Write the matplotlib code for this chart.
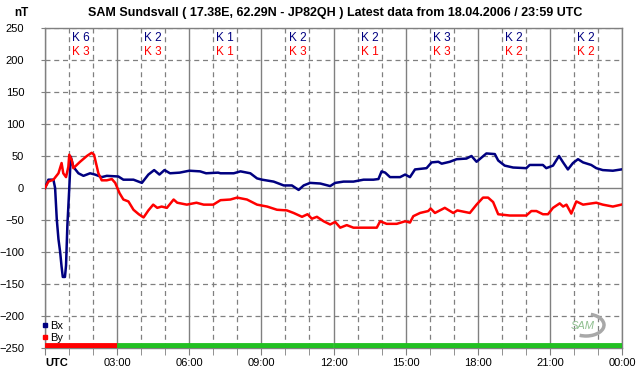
import matplotlib
matplotlib.use("Agg")
import matplotlib.pyplot as plt
from matplotlib.lines import Line2D
from matplotlib.patches import Arc

plt.rcParams['font.family'] = ['Liberation Sans', 'DejaVu Sans']

# ---- data ----
bx_t = [0, 0.14, 0.35, 0.42, 0.49, 0.56, 0.63, 0.69, 0.74, 0.83, 0.875, 0.93, 1.01, 1.07, 1.18,
        1.39, 1.6, 1.875, 2.08, 2.36, 2.57, 3.05, 3.26, 3.68, 4.03, 4.3, 4.54, 4.76, 4.97, 5.2, 5.6,
        6.0, 6.45, 6.7, 7.2, 7.3, 7.85, 8.13, 8.54, 8.82, 9.03, 9.51, 9.93, 10.27, 10.55, 10.76,
        11.03, 11.45, 11.86, 12.07, 12.42, 12.83, 13.25, 13.66, 13.87, 14.0, 14.15, 14.35, 14.77,
        14.98, 15.18, 15.39, 15.87, 16.08, 16.36, 16.5, 16.84, 17.12, 17.53, 17.74, 17.95, 18.36,
        18.71, 18.85, 19.12, 19.47, 20.02, 20.16, 20.71, 20.85, 21.13, 21.38, 21.55, 21.75, 21.96,
        22.17, 22.38, 22.72, 22.93, 23.2, 23.62, 23.97]
bx_v = [0, 13, 13, 0, -49, -80, -100, -123, -139, -139, -121, -59, 0, 49, 33,
        23, 19, 23, 21, 17, 19, 18, 13, 13, 8, 21, 28, 21, 28, 23, 24,
        27, 26, 23, 24, 23, 23, 26, 23, 15, 13, 10, 4, 4, -3, 4,
        8, 7, 3, 8, 10, 10, 13, 13, 14, 26, 24, 17, 17,
        21, 17, 29, 31, 40, 41, 38, 41, 45, 46, 50, 41, 54,
        53, 43, 35, 32, 31, 36, 36, 31, 35, 50, 40, 29, 39,
        45, 40, 36, 31, 28, 27, 29]

by_t = [0, 0.14, 0.35, 0.56, 0.69, 0.76, 0.875, 0.97, 1.01, 1.11, 1.18, 1.46, 1.74, 1.94, 2.04,
        2.22, 2.36, 2.57, 2.78, 2.92, 3.1, 3.26, 3.47, 3.68, 3.9, 4.1, 4.3, 4.5, 4.67, 4.85, 5.07, 5.35,
        5.5, 5.9, 6.3, 6.6, 7.0, 7.3, 7.71, 7.99, 8.4, 8.82, 9.24, 9.65, 10.06, 10.34, 10.69,
        10.92, 11.1, 11.31, 11.59, 11.86, 12.07, 12.28, 12.55, 12.83, 13.25, 13.8, 13.94, 14.21,
        14.63, 14.98, 15.18, 15.32, 15.6, 15.94, 16.04, 16.22, 16.63, 16.98, 17.15, 17.67, 17.95,
        18.22, 18.43, 18.64, 18.85, 19.33, 20.02, 20.23, 20.44, 20.71, 20.92, 21.13, 21.41, 21.55,
        21.69, 21.89, 22.1, 22.38, 22.93, 23.2, 23.62, 23.97]
by_v = [0, 10, 13, 23, 39, 23, 17, 33, 52, 44, 31, 41, 50, 55, 52,
        23, 12, 12, 14, 8, -8, -18, -21, -34, -41, -46, -35, -26, -31, -29, -31, -18,
        -23, -26, -23, -26, -26, -19, -18, -15, -18, -26, -29, -34, -35, -39, -45,
        -41, -48, -45, -52, -57, -53, -62, -58, -62, -62, -62, -52, -56,
        -56, -52, -54, -44, -39, -36, -32, -39, -31, -39, -35, -39, -26,
        -15, -15, -22, -41, -43, -43, -36, -36, -41, -41, -31, -24, -29,
        -26, -40, -21, -26, -23, -26, -29, -26]

k_bx = [6, 2, 1, 2, 2, 3, 2, 2]
k_by = [3, 3, 1, 3, 1, 3, 2, 2]
status = ['red', 'green', 'green', 'green', 'green', 'green', 'green', 'green']
xtick_labels = ['UTC', '03:00', '06:00', '09:00', '12:00', '15:00', '18:00', '21:00', '00:00']

title = "SAM Sundsvall ( 17.38E, 62.29N - JP82QH ) Latest data from 18.04.2006 / 23:59 UTC"

BX_COL = '#000080'
BY_COL = '#ff0000'
GRID = '#808080'

fig = plt.figure(figsize=(6.42, 3.76), dpi=100)
ax = fig.add_axes([45/642, 28/376, 577/642, 320/376])
ax.set_xlim(0, 24)
ax.set_ylim(-250, 250)

# grid
for h in range(25):
    if h % 3 == 0:
        ax.axvline(h, color=GRID, lw=1.0, zorder=1)
    else:
        ax.axvline(h, color=GRID, lw=0.9, ls=(0, (4, 3)), zorder=1)
for v in range(-250, 251, 50):
    if v == 0:
        ax.axhline(v, color=GRID, lw=1.0, zorder=1)
    else:
        ax.axhline(v, color=GRID, lw=0.9, ls=(0, (4, 3)), zorder=1)

ax.plot(bx_t, bx_v, color=BX_COL, lw=1.8, zorder=3)
ax.plot(by_t, by_v, color=BY_COL, lw=1.8, zorder=3)

# status bar
stat_colors = {'red': '#ff0000', 'green': '#22c022'}
for i, s in enumerate(status):
    ax.bar(i * 3, 8, width=3, bottom=-250, align='edge', color=stat_colors[s],
           edgecolor=stat_colors[s], linewidth=0.6, zorder=4)

# K indices
for i, (kx, ky) in enumerate(zip(k_bx, k_by)):
    ax.text(i * 3 + 1.5, 235, f"K {kx}", color=BX_COL, ha='center', va='center', fontsize=8.5, zorder=5)
    ax.text(i * 3 + 1.5, 213, f"K {ky}", color=BY_COL, ha='center', va='center', fontsize=8.5, zorder=5)

# axes styling
for sp in ax.spines.values():
    sp.set_color(GRID)
    sp.set_linewidth(1.0)
ax.set_xticks(range(0, 25, 3))
ax.set_xticklabels(xtick_labels, fontsize=8)
ax.set_xticks(range(25), minor=True)
ax.tick_params(axis='x', which='both', length=5, color=GRID, pad=2)
lbls = ax.get_xticklabels()
lbls[0].set_fontweight('bold')
lbls[0].set_ha('left')
ax.set_yticks(range(-250, 251, 50))
ax.tick_params(axis='y', length=3, color=GRID, labelsize=8, pad=12)

fig.text(335/642, 1 - 13/376, title, ha='center', va='center', fontsize=9, fontweight='bold')
fig.text(21/642, 1 - 13/376, "nT", ha='center', va='center', fontsize=8.5, fontweight='bold')

handles = [Line2D([], [], marker='s', ls='none', color=BX_COL, markersize=2.5),
           Line2D([], [], marker='s', ls='none', color=BY_COL, markersize=2.5)]
leg = ax.legend(handles, ['Bx', 'By'], loc='lower left', bbox_to_anchor=(-0.012, 0.003),
                frameon=False, fontsize=8, handlelength=0.5, handletextpad=0.2,
                labelspacing=0.15, borderaxespad=0)
leg.set_zorder(6)

# logo approximation
logo = Arc((586/642, 1 - 325/376), 36/642, 22/376, angle=0, theta1=-110, theta2=75,
           transform=fig.transFigure, color='#a8a8a8', lw=2.5, zorder=5)
fig.add_artist(logo)
fig.text(583/642, 1 - 326/376, "SAM", ha='center', va='center', fontsize=8,
         fontstyle='italic', color='#8fbf8f')

fig.savefig('out.png', dpi=100, facecolor='white')
